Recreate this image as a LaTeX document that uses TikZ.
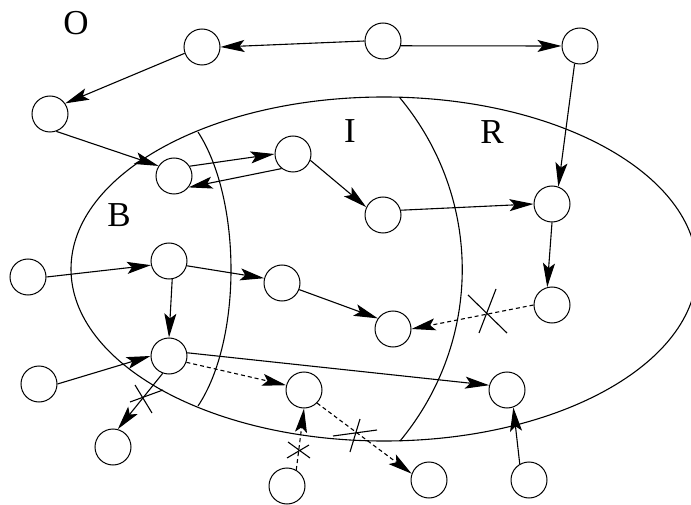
\documentclass[tikz,border=0pt]{standalone}
\usepackage{fontspec}
\setmainfont{Liberation Serif}
\usetikzlibrary{arrows.meta}
\begin{document}
\begin{tikzpicture}[x=1pt,y=-1pt,
  state/.style={circle,draw,line width=1pt,minimum size=36pt,inner sep=0pt},
  region/.style={font=\fontsize{35}{40}\selectfont,inner sep=0pt},
  link/.style={line width=1.1pt,-{Stealth[length=24pt,width=12pt,inset=5pt]}},
  weak/.style={link,dash pattern=on 4pt off 3pt},
  cut/.style={line width=1.1pt},
  boundary/.style={line width=1.1pt}]
\useasboundingbox (0,0) rectangle (691,505);

% the region and its inner borders
\draw[boundary] (384,269) ellipse [x radius=313, y radius=172];
\draw[boundary] (198,132) .. controls (242,200) and (242,340) .. (198,406);
\draw[boundary] (400,98) .. controls (483,198) and (483,341) .. (400,441);

% region labels
\node[region] (lo) at (76,23) {O};
\node[region] (lb) at (119,215) {B};
\node[region] (li) at (350,131) {I};
\node[region] (lr) at (492,132) {R};

% states
\node[state] (tm) at (383,41) {};
\node[state] (tr) at (580,46) {};
\node[state] (tl) at (202,47) {};
\node[state] (l)  at (50,114) {};
\node[state] (a1) at (174,176) {};
\node[state] (a2) at (293,154) {};
\node[state] (a3) at (383,215) {};
\node[state] (a4) at (552,204) {};
\node[state] (o2) at (28,277) {};
\node[state] (b1) at (169,261) {};
\node[state] (b2) at (282,283) {};
\node[state] (b3) at (393,329) {};
\node[state] (r2) at (552,305) {};
\node[state] (o3) at (39,384) {};
\node[state] (c1) at (169,356) {};
\node[state] (c2) at (304,390) {};
\node[state] (c3) at (507,390) {};
\node[state] (d1) at (113,447) {};
\node[state] (d2) at (287,486) {};
\node[state] (d3) at (429,480) {};
\node[state] (d4) at (529,480) {};

% transitions
\draw[link] (tm.west) -- (tl.east);
\draw[link] (tm.-15) -- (tr.west);
\draw[link] (tl.200) -- (l.35);
\draw[link] (l.-70) -- (a1.147);
\draw[link] (a1.32) -- (a2.180);
\draw[link] (a2.232) -- (a1.-38);
\draw[link] (a2.-20) -- (a3.155);
\draw[link] (a3.15) -- (a4.west);
\draw[link] (tr.-107) -- (a4.70);
\draw[link] (a4.-90) -- (r2.105);
\draw[weak] (r2.west) -- (b3.east);
\draw[link] (o2.east) -- (b1.193);
\draw[link] (b1.-15) -- (b2.165);
\draw[link] (b2.-21) -- (b3.145);
\draw[link] (b1.-80) -- (c1.north);
\draw[link] (o3.east) -- (c1.west);
\draw[link] (c1.10) -- (c3.165);
\draw[weak] (c1.-20) -- (c2.165);
\draw[link] (c1.-110) -- (d1.75);
\draw[weak] (d2.60) -- (c2.-90);
\draw[weak] (c2.-45) -- (d3.160);
\draw[link] (d4.120) -- (c3.-70);

% crossed-out transitions
\draw[cut] (135,385) -- (152,413) (130,402) -- (163,390);
\draw[cut] (288,442) -- (310,458) (287,458) -- (309,445);
\draw[cut] (360,419) -- (350,452) (333,436) -- (377,430);
\draw[cut] (468,295) -- (507,333) (496,289) -- (479,333);
\end{tikzpicture}
\end{document}
